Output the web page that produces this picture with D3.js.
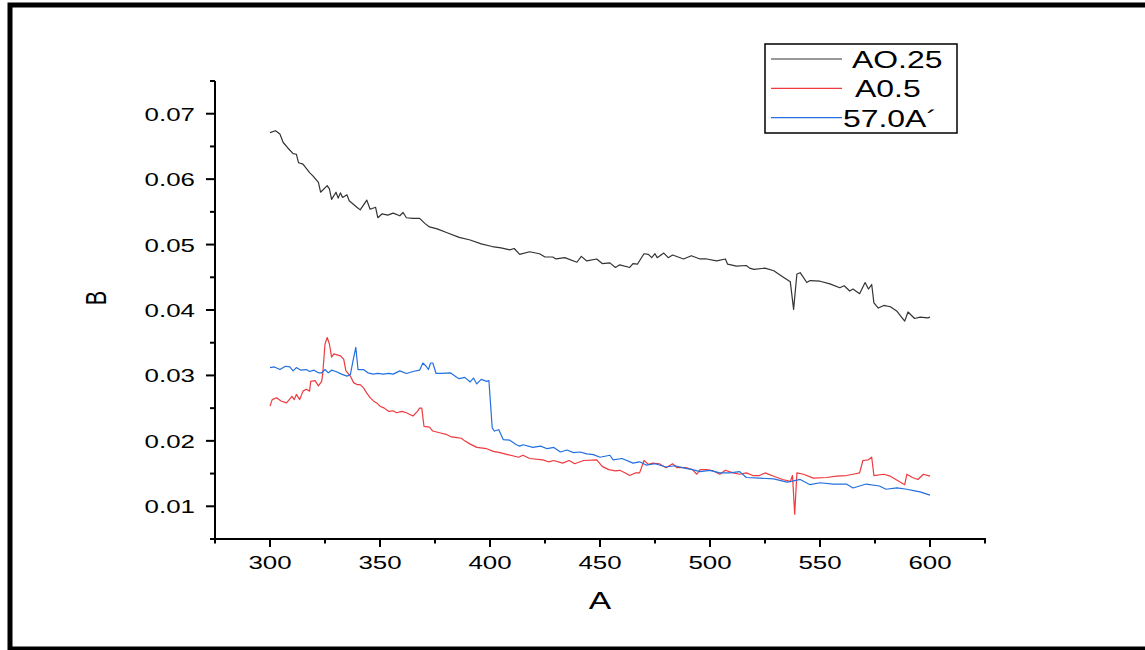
<!DOCTYPE html>
<html>
<head>
<meta charset="utf-8">
<script src="https://cdn.jsdelivr.net/npm/d3@7"></script>
<style>
  body { margin: 0; background: #fff; }
  text { font-family: "Liberation Sans", Arial, sans-serif; fill: #000; }
</style>
</head>
<body>
<div class="chart"></div>
<script>
// values
var blackX = [300, 302.5, 304.5, 306, 308, 310.5, 312, 313, 315, 318, 319.5, 322, 323, 326, 327, 328, 330, 331, 332, 333, 335, 336, 339.5, 341, 344, 345.5, 348, 349, 351, 353.5, 356, 359, 360.5, 362, 365, 368, 370.5, 372.5, 376, 380.5, 386, 391, 396, 401, 405, 409, 411,
  413.5, 418, 422.5, 425, 428.5, 430, 434, 439.5, 441.5, 444, 448.5, 451, 454.5, 457, 459, 463.5, 465, 467, 470, 472, 473.5, 475, 476, 479, 481, 483, 488, 491.5, 495.5, 498.5, 503, 507, 508, 512, 516.5, 518, 520, 525, 529, 533, 536.5, 538, 539.5, 541, 544, 545.5, 550, 554.5, 559, 561, 563.5, 565, 568, 570.5, 572, 573.5, 574.5, 576.5, 579, 582, 585, 588.5, 590, 593, 595.5, 599, 600];
var blackY = [0.0671, 0.0674, 0.0669, 0.0656, 0.0648, 0.0639, 0.0638, 0.0625, 0.0623, 0.0610, 0.0605, 0.0595, 0.0580, 0.0590, 0.0585, 0.0569, 0.0580, 0.0571, 0.0579, 0.0572, 0.0576, 0.0567, 0.0557, 0.0553, 0.0568, 0.0554, 0.0557, 0.0541, 0.0547, 0.0545, 0.0548, 0.0544, 0.0549, 0.0541, 0.0540, 0.0540, 0.0532, 0.0527, 0.0524, 0.0518, 0.0511, 0.0507, 0.0501, 0.0497, 0.0495, 0.0492, 0.0494,
  0.0485, 0.0489, 0.0486, 0.0481, 0.0481, 0.0478, 0.0480, 0.0473, 0.0482, 0.0475, 0.0478, 0.0471, 0.0472, 0.0465, 0.0469, 0.0465, 0.0471, 0.0470, 0.0486, 0.0485, 0.0480, 0.0486, 0.0480, 0.0487, 0.0480, 0.0484, 0.0478, 0.0483, 0.0478, 0.0478, 0.0475, 0.0478, 0.0470, 0.0467, 0.0468, 0.0464, 0.0462, 0.0464, 0.0460, 0.0451, 0.0443, 0.0401, 0.0455, 0.0457, 0.0442, 0.0445, 0.0444, 0.0440, 0.0434, 0.0437, 0.0429, 0.0432, 0.0425, 0.0442, 0.0432, 0.0439, 0.0411, 0.0403, 0.0407, 0.0405, 0.0398, 0.0383, 0.0397, 0.0387, 0.0389, 0.0388, 0.0389];

var redX = [300, 301, 303, 305, 307.5, 310, 311, 312, 313.5, 315, 316.5, 318, 318.5, 320.5, 322, 323.5, 324, 325, 326, 327, 328, 329, 332, 333.5, 334.5, 336.5, 338, 339.5, 341, 342.5, 344, 345.5, 347, 348.5, 350, 352, 354, 356, 357.5, 360, 362, 365, 367, 368, 369, 370, 372.5, 374, 377.5, 380, 382.5, 385, 387, 388.5, 391, 394, 398.5, 401.5, 404.5, 408, 413, 415, 418, 424, 426.5, 429, 433, 436, 438.5, 442.5, 448.5, 451, 454, 457, 459, 461.5, 463.5, 466, 468, 470, 472, 474, 477, 480, 483, 485, 489, 492, 494, 495.5, 498.5, 501.5, 504.5, 507, 510.5, 513.5, 516.5, 519.5, 522.5, 525, 529, 533, 536.5, 537.5, 538.5, 539.5, 542.5, 547, 553, 557.5, 562, 565, 568, 569.5, 572, 573.5, 574.5, 579, 582, 586, 588.5, 589.5, 592, 594.5, 597, 600];
var redY = [0.0253, 0.0263, 0.0266, 0.0261, 0.0258, 0.0268, 0.0263, 0.0271, 0.0263, 0.0276, 0.0279, 0.0276, 0.0291, 0.0292, 0.0284, 0.0291, 0.0304, 0.0348, 0.0358, 0.0348, 0.0328, 0.0333, 0.0330, 0.0325, 0.0307, 0.0299, 0.0289, 0.0286, 0.0286, 0.0281, 0.0273, 0.0266, 0.0261, 0.0258, 0.0253, 0.0250, 0.0245, 0.0246, 0.0243, 0.0245, 0.0243, 0.0238, 0.0245, 0.0250, 0.0250, 0.0222, 0.0221, 0.0215, 0.0212, 0.0210, 0.0206, 0.0205, 0.0204, 0.0200, 0.0195, 0.0190, 0.0188, 0.0184, 0.0182, 0.0179, 0.0175, 0.0178, 0.0173, 0.0171, 0.0168, 0.0170, 0.0166, 0.0170, 0.0165, 0.0170, 0.0171, 0.0161, 0.0156, 0.0154, 0.0155, 0.0151, 0.0147, 0.0151, 0.0151, 0.0170, 0.0164, 0.0166, 0.0165, 0.0159, 0.0165, 0.0159, 0.0159, 0.0156, 0.0149, 0.0156, 0.0156, 0.0154, 0.0149, 0.0155, 0.0151, 0.0149, 0.0151, 0.0147, 0.0147, 0.0151, 0.0146, 0.0141, 0.0138, 0.0147, 0.0088, 0.0151, 0.0149, 0.0143, 0.0144, 0.0146, 0.0147, 0.0149, 0.0151, 0.0170, 0.0171, 0.0175, 0.0147, 0.0149, 0.0146, 0.0138, 0.0133, 0.0149, 0.0144, 0.0141, 0.0149, 0.0146];

var blueX = [300, 302, 304.5, 307, 309, 310.5, 312, 314, 316.5, 318, 320, 322, 323.5, 325, 326.5, 328, 330, 332.5, 335, 336.5, 338, 339, 340, 342.5, 344.5, 347, 349, 351.5, 354, 356, 359, 362, 365, 368, 369.5, 371, 372, 373, 374, 375.5, 378, 382, 385, 386, 388.5, 391, 392.5, 394, 396, 398.5, 399.5, 401, 402, 404, 406, 409, 412, 413.5, 415, 419.5, 423, 426, 429, 432, 435, 438, 441, 444, 447, 450, 454.5, 456, 460, 465, 468, 471, 475, 480, 484, 489, 492, 495.5, 500, 504.5, 509, 513.5, 516.5, 522.5, 529, 535, 537, 541, 545.5, 550, 556, 562, 565, 571, 577, 580, 585, 589.5, 592.5, 595.5, 600];
var blueY = [0.0312, 0.0313, 0.0309, 0.0314, 0.0313, 0.0307, 0.0312, 0.0308, 0.0309, 0.0306, 0.0308, 0.0304, 0.0304, 0.0309, 0.0304, 0.0308, 0.0306, 0.0302, 0.0299, 0.0301, 0.0327, 0.0343, 0.0309, 0.0309, 0.0304, 0.0302, 0.0303, 0.0302, 0.0303, 0.0302, 0.0307, 0.0303, 0.0306, 0.0308, 0.0319, 0.0314, 0.0309, 0.0319, 0.0319, 0.0303, 0.0303, 0.0304, 0.0297, 0.0295, 0.0297, 0.0290, 0.0296, 0.0287, 0.0294, 0.0291, 0.0292, 0.0220, 0.0215, 0.0217, 0.0202, 0.0201, 0.0194, 0.0192, 0.0194, 0.0190, 0.0192, 0.0188, 0.0190, 0.0183, 0.0186, 0.0182, 0.0183, 0.0180, 0.0179, 0.0175, 0.0178, 0.0171, 0.0173, 0.0166, 0.0168, 0.0163, 0.0165, 0.0160, 0.0162, 0.0158, 0.0156, 0.0153, 0.0155, 0.0151, 0.0151, 0.0153, 0.0144, 0.0143, 0.0142, 0.0137, 0.0138, 0.0141, 0.0133, 0.0136, 0.0134, 0.0134, 0.0128, 0.0134, 0.0131, 0.0126, 0.0128, 0.0126, 0.0124, 0.0122, 0.0117];

var xMajor = [300, 350, 400, 450, 500, 550, 600];
var xMinor = [275, 325, 375, 425, 475, 525, 575, 625];
var yMajor = [0.01, 0.02, 0.03, 0.04, 0.05, 0.06, 0.07];
var yMinor = [0.005, 0.015, 0.025, 0.035, 0.045, 0.055, 0.065, 0.075];
var seriesNames = ["AO.25", "A0.5", "57.0A\u00b4"];
var seriesColors = ["#333333", "#ef3a3f", "#2270e0"];

var width = 1145, height = 650,
    stretch = 1.4;   // the picture is wider than tall, text too

var svg = d3.select(".chart")
  .append("svg")
    .attr("width", width)
    .attr("height", height);

// outer frame
svg.append("rect")
  .attr("x", 10).attr("y", 5)
  .attr("width", 1160).attr("height", 644)
  .style("fill", "none")
  .style("stroke", "#000")
  .style("stroke-width", 5);

var x = d3.scaleLinear().domain([275, 625]).range([215, 985]);
var y = d3.scaleLinear().domain([0.005, 0.075]).range([539, 81]);

// axes lines
svg.append("line")
  .attr("x1", 210).attr("x2", x(625) + 1)
  .attr("y1", y(0.005)).attr("y2", y(0.005))
  .style("stroke", "#000").style("stroke-width", 2);
svg.append("line")
  .attr("x1", x(275)).attr("x2", x(275))
  .attr("y1", y(0.075)).attr("y2", y(0.005) + 1)
  .style("stroke", "#000").style("stroke-width", 2);

// x ticks
svg.selectAll(".xmaj").data(xMajor).enter().append("line")
  .attr("x1", d => x(d)).attr("x2", d => x(d))
  .attr("y1", y(0.005)).attr("y2", y(0.005) + 8)
  .style("stroke", "#000").style("stroke-width", 2);
svg.selectAll(".xmin").data(xMinor).enter().append("line")
  .attr("x1", d => x(d)).attr("x2", d => x(d))
  .attr("y1", y(0.005)).attr("y2", y(0.005) + 4.5)
  .style("stroke", "#000").style("stroke-width", 2);
svg.selectAll(".xlab").data(xMajor).enter().append("text")
  .attr("transform", d => "translate(" + x(d) + ",569) scale(" + stretch + ",1)")
  .attr("text-anchor", "middle")
  .style("font-size", "18.5px")
  .text(d => d);

// y ticks
svg.selectAll(".ymaj").data(yMajor).enter().append("line")
  .attr("x1", x(275) - 9).attr("x2", x(275))
  .attr("y1", d => y(d)).attr("y2", d => y(d))
  .style("stroke", "#000").style("stroke-width", 2);
svg.selectAll(".ymin").data(yMinor).enter().append("line")
  .attr("x1", x(275) - 5).attr("x2", x(275))
  .attr("y1", d => y(d)).attr("y2", d => y(d))
  .style("stroke", "#000").style("stroke-width", 2);
svg.selectAll(".ylab").data(yMajor).enter().append("text")
  .attr("transform", d => "translate(195," + (y(d) + 7) + ") scale(" + stretch + ",1)")
  .attr("text-anchor", "end")
  .style("font-size", "18.5px")
  .text(d3.format(".2f"));

// axis titles
svg.append("text")
  .attr("transform", "translate(600,609) scale(" + stretch + ",1)")
  .attr("text-anchor", "middle")
  .style("font-size", "24px")
  .text("A");
svg.append("text")
  .attr("transform", "translate(106,298) rotate(-90) scale(1," + stretch + ")")
  .attr("text-anchor", "middle")
  .style("font-size", "21.5px")
  .text("B");

// series
var series = [
  {xs: blackX, ys: blackY},
  {xs: redX, ys: redY},
  {xs: blueX, ys: blueY}
];
var line = d3.line()
  .x(d => x(d[0]))
  .y(d => y(d[1]));

series.forEach(function(s, i) {
  var pts = s.xs.map((v, j) => [v, s.ys[j]]);
  svg.append("path")
    .datum(pts)
    .attr("d", line)
    .style("fill", "none")
    .style("stroke", seriesColors[i])
    .style("stroke-width", 1.2)
    .style("stroke-linejoin", "round");
});

// legend
var legend = svg.append("g");
legend.append("rect")
  .attr("x", 765).attr("y", 44)
  .attr("width", 192).attr("height", 89)
  .style("fill", "#fff")
  .style("stroke", "#000")
  .style("stroke-width", 1.5);
var legX = [852, 855, 843];
seriesNames.forEach(function(name, i) {
  var ly = 59 + i * 29.3;
  legend.append("line")
    .attr("x1", 771).attr("x2", 842)
    .attr("y1", ly).attr("y2", ly)
    .style("stroke", seriesColors[i])
    .style("stroke-width", 1.2);
  legend.append("text")
    .attr("transform", "translate(" + legX[i] + "," + (ly + 9) + ") scale(1.37,1)")
    .style("font-size", "23.3px")
    .text(name);
});
</script>
</body>
</html>
